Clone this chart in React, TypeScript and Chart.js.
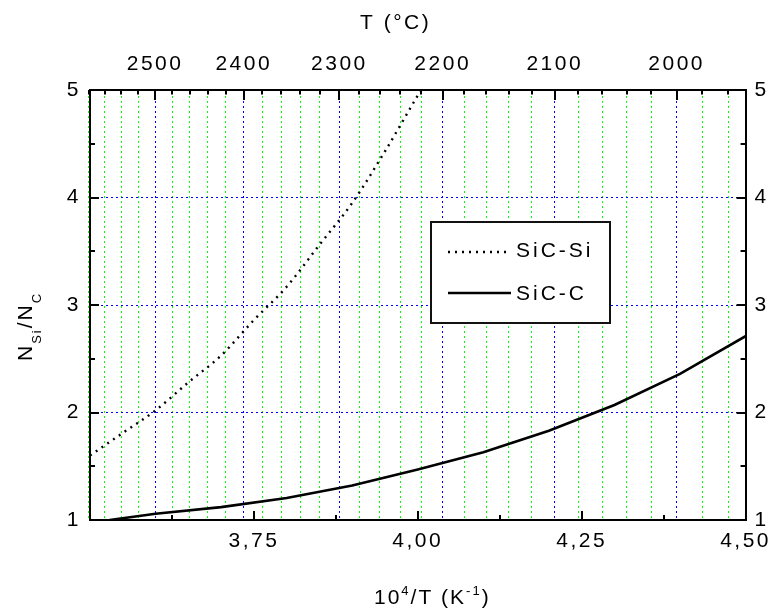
import React, { useEffect, useRef } from 'react';
import { Chart, registerables } from 'chart.js';

Chart.register(...registerables);

const FONT = "'Liberation Sans', Arial, sans-serif";

// SiC-Si (dotted) : x = 10^4/T (K^-1), y = N_Si/N_C
const SI_X = [3.5, 3.55, 3.6, 3.65, 3.7, 3.75, 3.8, 3.85, 3.9, 3.95, 4.0, 4.005];
const SI_Y = [1.6, 1.81, 2.02, 2.28, 2.53, 2.86, 3.17, 3.56, 3.95, 4.43, 4.95, 5.0];

// SiC-C (solid)
const C_X = [3.53, 3.6, 3.7, 3.8, 3.9, 4.0, 4.1, 4.2, 4.3, 4.4, 4.5];
const C_Y = [1.0, 1.058, 1.12, 1.205, 1.32, 1.47, 1.63, 1.83, 2.07, 2.36, 2.71];

const SERIES_LABELS = ['SiC-Si', 'SiC-C'];

const X_TICKS = [3.5, 3.75, 4.0, 4.25, 4.5];
const X_TICK_LABELS = ['', '3,75', '4,00', '4,25', '4,50'];
const Y_TICKS = [1, 2, 3, 4, 5];
const Y_TICK_LABELS = ['1', '2', '3', '4', '5'];

// top axis: temperature in °C
const TOP_T_MAJOR = [2500, 2400, 2300, 2200, 2100, 2000];
const TOP_T_FIRST = 2580;
const TOP_T_LAST = 1960;
const TOP_T_STEP = 20;
const TOP_MIN = 3.507;
const TOP_MAX = 4.504;

const toInvT = (tC: number) => 1e4 / (tC + 273.15);
const TOP_T_ALL: number[] = [];
for (let t = TOP_T_FIRST; t >= TOP_T_LAST; t -= TOP_T_STEP) TOP_T_ALL.push(t);
const TOP_TICK_VALUES = TOP_T_ALL.map(toInvT);
const TOP_TICK_LABELS = TOP_T_ALL.map((t) => (TOP_T_MAJOR.includes(t) ? String(t) : ''));

const BLUE = '#0000ff';
const GREEN = '#00ff00';
const TICK_SPACING = '2.5px';

type Seg = { t: string; size: number; dy: number };

function drawRich(ctx: any, segs: Seg[], x: number, y: number, spacing: number) {
  let cx = x;
  for (const s of segs) {
    ctx.font = `${s.size}px ${FONT}`;
    ctx.letterSpacing = '0px';
    const w = ctx.measureText(s.t).width + s.t.length * spacing;
    ctx.letterSpacing = spacing + 'px';
    ctx.fillText(s.t, cx, y + s.dy);
    cx += w;
  }
}

const decor = {
  id: 'decor',
  beforeUpdate(chart: any) {
    chart.ctx.letterSpacing = TICK_SPACING;
  },
  beforeDraw(chart: any) {
    chart.ctx.letterSpacing = TICK_SPACING;
  },
  afterDraw(chart: any) {
    const ctx = chart.ctx;
    const { left, right, top, bottom } = chart.chartArea;
    const sx = chart.scales.x;
    const st = chart.scales.xTop;
    const sy = chart.scales.y;
    ctx.save();
    ctx.strokeStyle = '#000';
    ctx.lineWidth = 2;
    ctx.lineCap = 'butt';
    ctx.setLineDash([]);
    const seg = (x1: number, y1: number, x2: number, y2: number) => {
      ctx.beginPath();
      ctx.moveTo(x1, y1);
      ctx.lineTo(x2, y2);
      ctx.stroke();
    };
    // bottom ticks (inward)
    for (let i = 0; i < X_TICKS.length; i++) {
      const p = Math.round(sx.getPixelForValue(X_TICKS[i]));
      seg(p, bottom, p, bottom - 9);
      if (i < X_TICKS.length - 1) {
        const m = Math.round(sx.getPixelForValue((X_TICKS[i] + X_TICKS[i + 1]) / 2));
        seg(m, bottom, m, bottom - 5);
      }
    }
    // top ticks
    TOP_T_ALL.forEach((t) => {
      const p = Math.round(st.getPixelForValue(toInvT(t)));
      seg(p, top, p, top + (TOP_T_MAJOR.includes(t) ? 10 : 4.5));
    });
    // left / right ticks
    for (let i = 0; i < Y_TICKS.length; i++) {
      const p = Math.round(sy.getPixelForValue(Y_TICKS[i]));
      seg(left, p, left + 9, p);
      seg(right, p, right - 9, p);
      if (i < Y_TICKS.length - 1) {
        const m = Math.round(sy.getPixelForValue((Y_TICKS[i] + Y_TICKS[i + 1]) / 2));
        seg(left, m, left + 5, m);
        seg(right, m, right - 5, m);
      }
    }

    // legend
    const lx = 431, ly = 222, lw = 179, lh = 101;
    ctx.fillStyle = '#fff';
    ctx.fillRect(lx, ly, lw, lh);
    ctx.strokeStyle = '#111';
    ctx.lineWidth = 2;
    ctx.strokeRect(lx, ly, lw, lh);
    const rowY = [252, 293];
    const baseY = [257, 300];
    chart.data.datasets.forEach((ds: any, i: number) => {
      ctx.save();
      ctx.strokeStyle = ds.borderColor;
      ctx.lineWidth = ds.borderWidth;
      ctx.setLineDash(ds.borderDash || []);
      seg(448, rowY[i], 511, rowY[i]);
      ctx.restore();
      ctx.fillStyle = '#000';
      ctx.textBaseline = 'alphabetic';
      ctx.textAlign = 'left';
      drawRich(ctx, [{ t: ds.label, size: 21, dy: 0 }], 516, baseY[i], 3);
    });

    // titles
    ctx.fillStyle = '#000';
    ctx.textAlign = 'left';
    ctx.textBaseline = 'alphabetic';
    drawRich(ctx, [{ t: 'T (°C)', size: 21, dy: 0 }], 360, 28.5, 2.5);
    drawRich(
      ctx,
      [
        { t: '10', size: 21, dy: 0 },
        { t: '4', size: 13, dy: -9 },
        { t: '/T (K', size: 21, dy: 0 },
        { t: '-1', size: 13, dy: -9 },
        { t: ')', size: 21, dy: 0 },
      ],
      374,
      604,
      2
    );
    ctx.save();
    ctx.translate(32, 361);
    ctx.rotate(-Math.PI / 2);
    drawRich(
      ctx,
      [
        { t: 'N', size: 21, dy: 0 },
        { t: 'Si', size: 13, dy: 9 },
        { t: '/N', size: 21, dy: 0 },
        { t: 'C', size: 13, dy: 9 },
      ],
      0,
      0,
      2
    );
    ctx.restore();
    ctx.restore();
  },
};

export default function App() {
  const ref = useRef<HTMLCanvasElement>(null);
  useEffect(() => {
    const canvas = ref.current;
    if (!canvas) return;
    const tickFont = { family: FONT, size: 21 };
    const chart = new Chart(canvas, {
      type: 'scatter',
      data: {
        datasets: [
          {
            label: SERIES_LABELS[0],
            data: SI_X.map((x, i) => ({ x, y: SI_Y[i] })),
            showLine: true,
            borderColor: '#000',
            borderWidth: 2.4,
            borderDash: [2, 5],
            borderCapStyle: 'butt',
            pointRadius: 0,
            cubicInterpolationMode: 'monotone',
            xAxisID: 'x',
            yAxisID: 'y',
          },
          {
            label: SERIES_LABELS[1],
            data: C_X.map((x, i) => ({ x, y: C_Y[i] })),
            showLine: true,
            borderColor: '#000',
            borderWidth: 2.6,
            pointRadius: 0,
            tension: 0,
            xAxisID: 'x',
            yAxisID: 'y',
          },
        ],
      } as any,
      options: {
        responsive: false,
        devicePixelRatio: 1,
        animation: false,
        events: [],
        layout: { padding: 0 },
        plugins: { legend: { display: false }, tooltip: { enabled: false } },
        scales: {
          x: {
            type: 'linear',
            position: 'bottom',
            min: 3.5,
            max: 4.5,
            afterBuildTicks: (s: any) => {
              s.ticks = X_TICKS.map((v) => ({ value: v }));
            },
            ticks: {
              callback: (_v: any, i: number) => X_TICK_LABELS[i],
              autoSkip: false,
              maxRotation: 0,
              font: tickFont,
              color: '#000',
              padding: 9,
            },
            grid: { display: false, drawTicks: false },
            border: { display: true, color: '#000', width: 2 },
            afterFit: (s: any) => {
              s.height = 90;
            },
          },
          xTop: {
            type: 'linear',
            position: 'top',
            min: TOP_MIN,
            max: TOP_MAX,
            afterBuildTicks: (s: any) => {
              s.ticks = TOP_TICK_VALUES.map((v) => ({ value: v }));
            },
            ticks: {
              callback: (_v: any, i: number) => TOP_TICK_LABELS[i],
              autoSkip: false,
              maxRotation: 0,
              font: tickFont,
              color: '#000',
              padding: 13,
            },
            grid: {
              display: true,
              drawTicks: false,
              lineWidth: 1,
              color: (c: any) => (TOP_TICK_LABELS[c.index] ? BLUE : GREEN),
            },
            border: { display: true, color: '#000', width: 2, dash: [2, 3] },
            afterFit: (s: any) => {
              s.height = 90;
            },
          },
          y: {
            type: 'linear',
            position: 'left',
            min: 1,
            max: 5,
            afterBuildTicks: (s: any) => {
              s.ticks = Y_TICKS.map((v) => ({ value: v }));
            },
            ticks: {
              callback: (_v: any, i: number) => Y_TICK_LABELS[i],
              font: tickFont,
              color: '#000',
              padding: 9,
            },
            grid: {
              display: true,
              drawTicks: false,
              lineWidth: 1,
              color: (c: any) =>
                c.tick && c.tick.value > 1 && c.tick.value < 5 ? BLUE : 'rgba(0,0,0,0)',
            },
            border: { display: true, color: '#000', width: 2, dash: [2, 3] },
            afterFit: (s: any) => {
              s.width = 90;
            },
          },
          yRight: {
            type: 'linear',
            position: 'right',
            min: 1,
            max: 5,
            afterBuildTicks: (s: any) => {
              s.ticks = Y_TICKS.map((v) => ({ value: v }));
            },
            ticks: {
              callback: (_v: any, i: number) => Y_TICK_LABELS[i],
              font: tickFont,
              color: '#000',
              padding: 9,
            },
            grid: { display: false, drawTicks: false },
            border: { display: true, color: '#000', width: 2 },
            afterFit: (s: any) => {
              s.width = 27;
            },
          },
        },
      } as any,
      plugins: [decor],
    });
    return () => chart.destroy();
  }, []);
  return (
    <div style={{ position: 'absolute', left: 0, top: 0, width: 780, height: 610, background: '#fff' }}>
      <canvas ref={ref} width={780} height={610} style={{ display: 'block' }} />
    </div>
  );
}
